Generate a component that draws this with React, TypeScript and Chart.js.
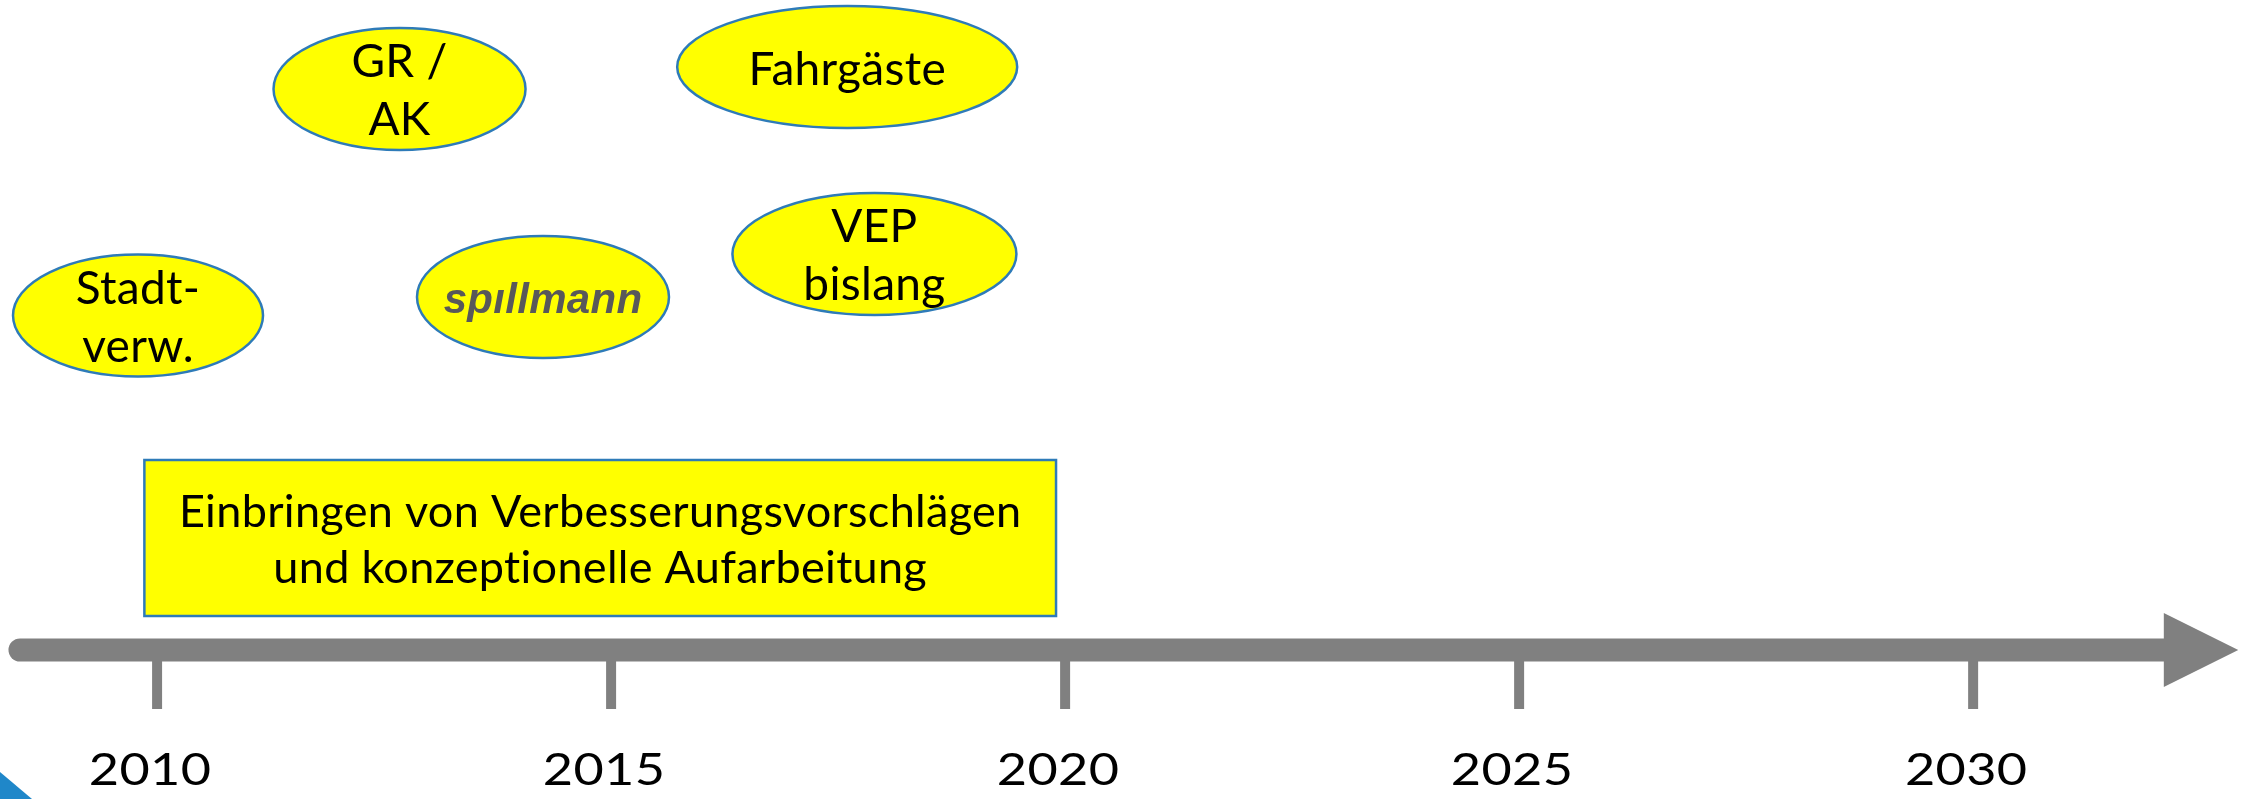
import React, { useEffect, useRef } from "react";
import { Chart, registerables } from "chart.js";

Chart.register(...registerables);

// ---- data ----
const tickYears = [2010, 2015, 2020, 2025, 2030];
const tickLabels = ["2010", "2015", "2020", "2025", "2030"];

const bubbleLabels = ["Stadt-\nverw.", "GR /\nAK", "spıllmann", "Fahrgäste", "VEP\nbislang"];
const bubbleYears = [2009.79, 2012.67, 2014.25, 2017.6, 2017.9];
const bubbleLevels = [3.345, 5.61, 3.53, 5.83, 3.96];

const periodLabel = ["Einbringen von Verbesserungsvorschlägen", "und konzeptionelle Aufarbeitung"];
const periodYears = [2009.86, 2019.9];
const periodLevels = [0.34, 1.9];

const axisYears = [2008.49, 2032.1];
const axisTipYear = 2032.92;
const axisLevel = 0;

// ---- styles ----
const bubbleRadii = [
  [125, 61],
  [126, 61],
  [126, 61],
  [170, 61],
  [142, 61],
];
const YELLOW = "#ffff00";
const BLUE = "#2e7bb8";
const GREY = "#808080";

function setText(ctx: any, font: string) {
  ctx.font = font;
  try {
    ctx.letterSpacing = "0.3px";
  } catch (e) {}
}

const overlay = {
  id: "timelineOverlay",
  afterDatasetsDraw(chart: any) {
    const ctx = chart.ctx as CanvasRenderingContext2D;
    const xs = chart.scales.x;
    const ys = chart.scales.y;
    ctx.save();

    // arrow head
    const hx0 = xs.getPixelForValue(axisYears[1]);
    const hx1 = xs.getPixelForValue(axisTipYear);
    const hy = ys.getPixelForValue(axisLevel);
    ctx.fillStyle = GREY;
    ctx.beginPath();
    ctx.moveTo(hx0, hy - 37);
    ctx.lineTo(hx1, hy);
    ctx.lineTo(hx0, hy + 37);
    ctx.closePath();
    ctx.fill();

    // ticks and year labels
    tickYears.forEach((yr, i) => {
      const x = xs.getPixelForValue(yr);
      ctx.fillStyle = GREY;
      ctx.fillRect(x - 5, hy + 10, 10, 49);
      ctx.save();
      ctx.fillStyle = "#000";
      setText(ctx, "45px Lato");
      ctx.textAlign = "center";
      ctx.textBaseline = "alphabetic";
      ctx.translate(x - 7, hy + 135);
      ctx.scale(1.16, 1);
      ctx.fillText(tickLabels[i], 0, 0);
      ctx.restore();
    });

    // period rectangle
    const rx0 = xs.getPixelForValue(periodYears[0]);
    const rx1 = xs.getPixelForValue(periodYears[1]);
    const ry0 = ys.getPixelForValue(periodLevels[1]);
    const ry1 = ys.getPixelForValue(periodLevels[0]);
    ctx.fillStyle = YELLOW;
    ctx.fillRect(rx0, ry0, rx1 - rx0, ry1 - ry0);
    ctx.strokeStyle = BLUE;
    ctx.lineWidth = 2.5;
    ctx.strokeRect(rx0, ry0, rx1 - rx0, ry1 - ry0);
    ctx.fillStyle = "#000";
    setText(ctx, "45px Lato");
    ctx.textAlign = "center";
    ctx.fillText(periodLabel[0], (rx0 + rx1) / 2, ry0 + 67);
    ctx.fillText(periodLabel[1], (rx0 + rx1) / 2, ry0 + 123);

    // bubbles
    const meta = chart.getDatasetMeta(0);
    meta.data.forEach((pt: any, i: number) => {
      const cx = pt.x;
      const cy = pt.y;
      const [rx, ry] = bubbleRadii[i];
      ctx.beginPath();
      ctx.ellipse(cx, cy, rx, ry, 0, 0, Math.PI * 2);
      ctx.fillStyle = YELLOW;
      ctx.fill();
      ctx.strokeStyle = BLUE;
      ctx.lineWidth = 2.5;
      ctx.stroke();
      const lines = bubbleLabels[i].split("\n");
      ctx.textAlign = "center";
      if (bubbleLabels[i].startsWith("sp")) {
        ctx.fillStyle = "#58585a";
        setText(ctx, "italic bold 42px 'Liberation Sans'");
        ctx.fillText(lines[0], cx, cy + 16);
      } else {
        ctx.fillStyle = "#000";
        setText(ctx, "46px Lato");
        if (lines.length === 1) {
          ctx.fillText(lines[0], cx, cy + 18);
        } else {
          ctx.fillText(lines[0], cx, cy - 12);
          ctx.fillText(lines[1], cx, cy + 46);
        }
      }
    });

    // corner decoration
    ctx.fillStyle = "#1f87c9";
    ctx.beginPath();
    ctx.moveTo(0, chart.height - 27);
    ctx.lineTo(32, chart.height);
    ctx.lineTo(0, chart.height);
    ctx.closePath();
    ctx.fill();

    ctx.restore();
  },
};

export default function App() {
  const ref = useRef<HTMLCanvasElement>(null);
  useEffect(() => {
    if (!ref.current) return;
    const chart = new Chart(ref.current, {
      type: "scatter",
      data: {
        datasets: [
          {
            label: "bubbles",
            data: bubbleYears.map((x, i) => ({ x, y: bubbleLevels[i] })),
            pointRadius: 0,
            pointHoverRadius: 0,
          },
          {
            label: "axis",
            type: "line",
            data: axisYears.map((x) => ({ x, y: axisLevel })),
            showLine: true,
            borderColor: GREY,
            borderWidth: 23,
            borderCapStyle: "round",
            pointRadius: 0,
            order: 1,
          } as any,
        ],
      },
      options: {
        animation: false,
        responsive: false,
        devicePixelRatio: 1,
        layout: { padding: 0 },
        plugins: { legend: { display: false }, tooltip: { enabled: false } },
        scales: {
          x: { type: "linear", min: 2008.27, max: 2032.95, display: false },
          y: { type: "linear", min: -1.49, max: 6.5, display: false },
        },
      },
      plugins: [overlay],
    });
    return () => chart.destroy();
  }, []);
  return (
    <div style={{ position: "absolute", left: 0, top: 0, width: 2241, height: 799, background: "#fff" }}>
      <canvas ref={ref} width={2241} height={799} style={{ display: "block" }} />
    </div>
  );
}
